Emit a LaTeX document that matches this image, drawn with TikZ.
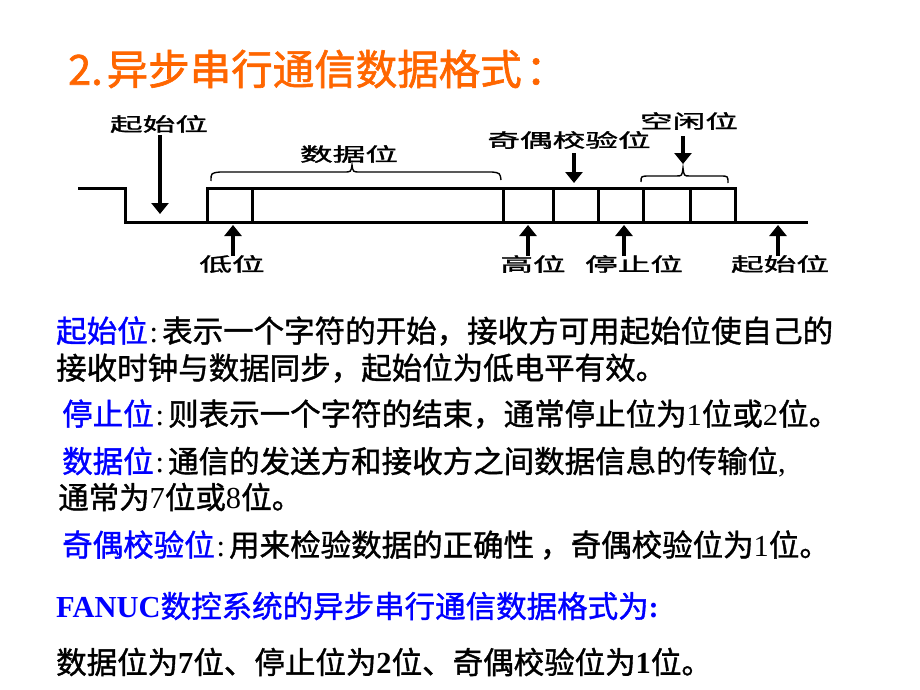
\documentclass[tikz,border=0pt]{standalone}
\usepackage{fontspec}
\setmainfont{Liberation Serif}
\newfontfamily\cjk[FakeBold=1.2]{Noto Sans CJK SC}
\newfontfamily\cjkt[FakeBold=1.5]{Noto Sans CJK SC}
\newfontfamily\lat{Liberation Serif}
\usetikzlibrary{arrows.meta}
\definecolor{ttl}{RGB}{255,102,0}
\definecolor{lbl}{RGB}{0,0,255}
\tikzset{
  wave/.style={line width=3pt},
  arr/.style={line width=3.5pt,-{Triangle[width=17pt,length=11pt]}},
  brc/.style={line width=1.4pt},
  lab/.style={font=\cjk\fontsize{19}{19}\selectfont,xscale=1.72,inner sep=0pt},
  body/.style={font=\cjk\fontsize{30.5}{36}\selectfont,anchor=west,inner sep=0pt},
}
\newcommand{\bl}[1]{\textcolor{lbl}{#1}}
\newcommand{\dg}[1]{{\lat #1}}
\newcommand{\cl}{{\lat\kern2pt:\kern4pt}}
\begin{document}
\begin{tikzpicture}[x=1pt,y=-1pt]
\useasboundingbox (0,0) rectangle (920,690);
\fill[white] (0,0) rectangle (920,690);

% title
\node[anchor=west,inner sep=0pt,text=ttl,font=\cjkt\fontsize{41.5}{44}\selectfont] (title) at (68,69) {2.\kern4pt 异步串行通信数据格式\kern4pt ：};

% waveform
\draw[wave] (78,188) -- (125,188) -- (125,222) -- (808,222);
\draw[wave] (207,222) -- (207,188) -- (735,188) -- (735,222);
\foreach \x in {252,503,553,598,643,690} \draw[wave] (\x,188) -- (\x,222);

% braces
\draw[brc] (211,181) .. controls (211,173) .. (220,172) -- (344,172) .. controls (351,172) .. (352,165)
  .. controls (353,172) .. (360,172) -- (492,172) .. controls (500,173) .. (501,180);
\draw[brc] (641,182) .. controls (641,176) .. (650,176) -- (676,176) .. controls (682,176) .. (683,168)
  .. controls (684,176) .. (690,176) -- (720,176) .. controls (728,176) .. (728,183);

% labels
\node[lab] (qs1) at (159,124) {起始位};
\node[lab] (sj) at (349,154) {数据位};
\node[lab] (jo) at (569,140) {奇偶校验位};
\node[lab] (kx) at (689,121) {空闲位};
\node[lab] (dw) at (232,264) {低位};
\node[lab] (gw) at (533,264) {高位};
\node[lab] (tz) at (634,264) {停止位};
\node[lab] (qs2) at (780,264) {起始位};

% arrow end points
\coordinate (a1s) at (160,135); \coordinate (a1e) at (160,214);
\coordinate (a2s) at (574,153); \coordinate (a2e) at (574,183);
\coordinate (a3s) at (683,136); \coordinate (a3e) at (683,164);
\coordinate (b1s) at (233,256); \coordinate (b1e) at (233,225);
\coordinate (b2s) at (528,256); \coordinate (b2e) at (528,225);
\coordinate (b3s) at (624,256); \coordinate (b3e) at (624,225);
\coordinate (b4s) at (778,256); \coordinate (b4e) at (778,225);
\draw[arr] (a1s) -- (a1e);
\draw[arr] (a2s) -- (a2e);
\draw[arr] (a3s) -- (a3e);
\draw[arr] (b1s) -- (b1e);
\draw[arr] (b2s) -- (b2e);
\draw[arr] (b3s) -- (b3e);
\draw[arr] (b4s) -- (b4e);

% body text
\node[body] (t1) at (56,331) {\bl{起始位}\cl 表示一个字符的开始，接收方可用起始位使自己的};
\node[body] (t2) at (56,368) {接收时钟与数据同步，起始位为低电平有效。};
\node[body] (t3) at (62,414) {\bl{停止位}\cl 则表示一个字符的结束，通常停止位为\dg{1}位或\dg{2}位。};
\node[body] (t4) at (62,462) {\bl{数据位}\cl 通信的发送方和接收方之间数据信息的传输位\dg{,}};
\node[body] (t5) at (58,497) {通常为\dg{7}位或\dg{8}位。};
\node[body] (t6) at (62,545) {\bl{奇偶校验位}\cl 用来检验数据的正确性\kern6pt，奇偶校验位为\dg{1}位。};
\node[body,text=lbl] (t7) at (56,606) {{\lat\bfseries FANUC}数控系统的异步串行通信数据格式为{\lat\bfseries :}};
\node[body] (t8) at (56,662) {数据位为{\lat\bfseries 7}位、停止位为{\lat\bfseries 2}位、奇偶校验位为{\lat\bfseries 1}位。};
\end{tikzpicture}
\end{document}
